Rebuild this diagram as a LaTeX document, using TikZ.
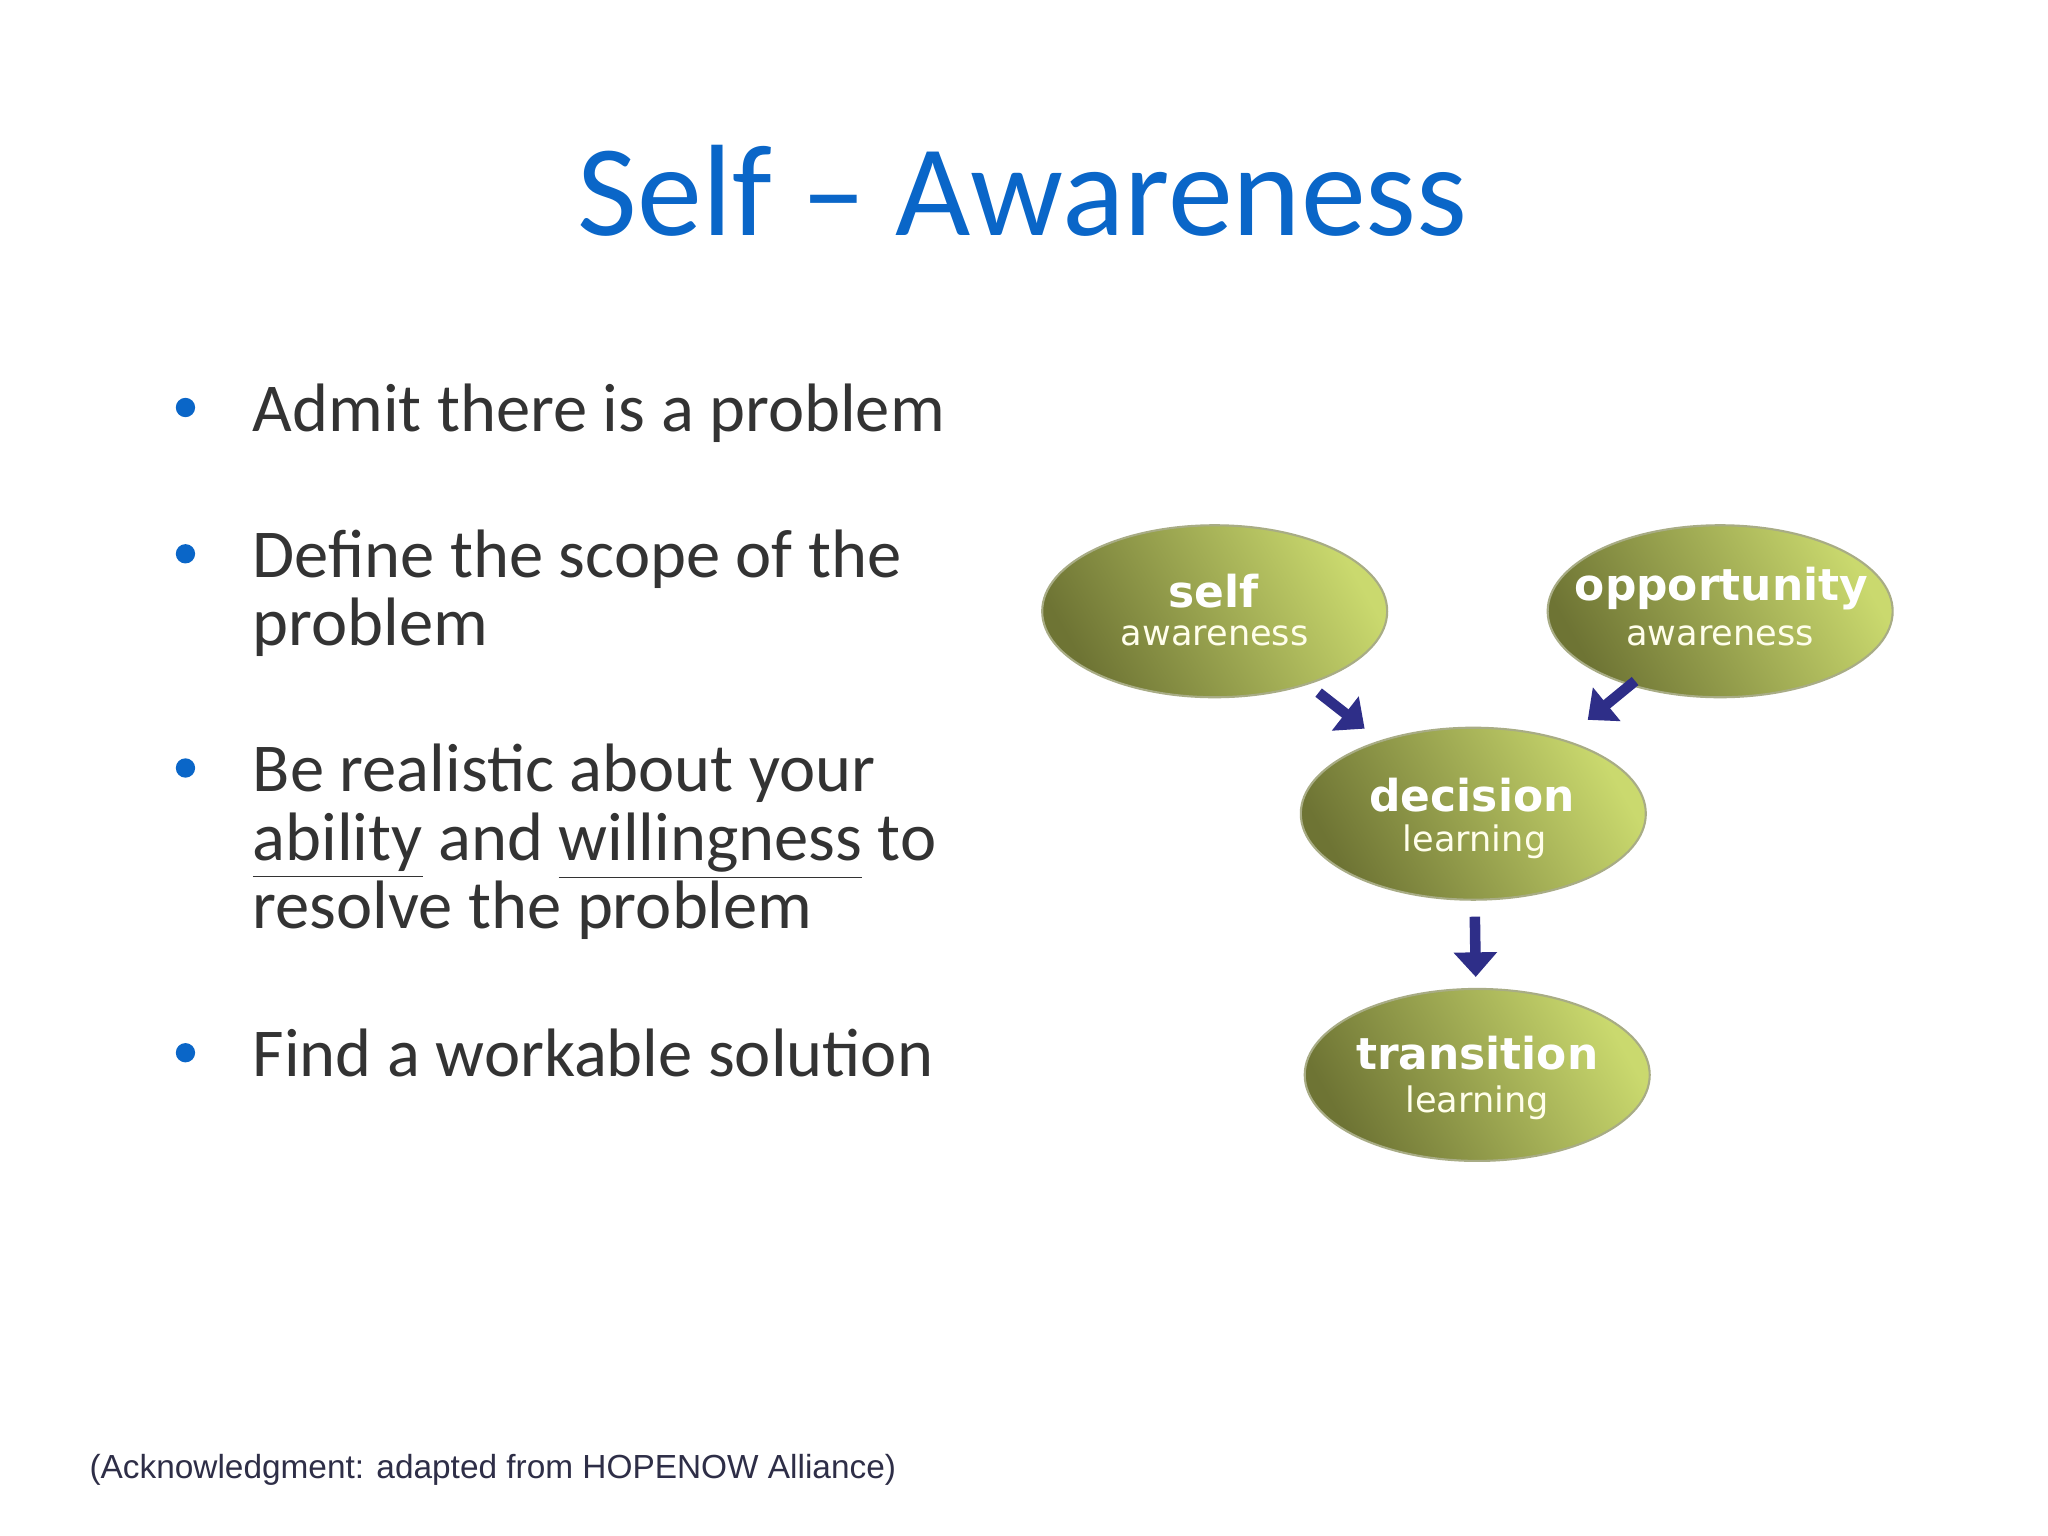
\documentclass[tikz,border=0pt]{standalone}
\usepackage{fontspec}
\setmainfont{Carlito}
\newfontfamily\ackfont{Liberation Sans}
\newfontfamily\elfont{DejaVu Sans}
\usetikzlibrary{shapes.geometric,arrows.meta}
\definecolor{ttl}{HTML}{0A66C8}
\definecolor{txt}{HTML}{333333}
\definecolor{arw}{HTML}{2E2E88}
\definecolor{gdark}{HTML}{6E7434}
\definecolor{glight}{HTML}{CAD96E}
\tikzset{
  bl/.style={anchor=base west,inner sep=0pt,font=\fontsize{19.5}{19.5}\selectfont,text=txt},
  dot/.style={circle,fill=ttl,inner sep=0pt,minimum size=5.5pt},
  oval/.style={ellipse,minimum width=3.45cm,minimum height=1.72cm,draw=gdark!60,line width=0.6pt,
     left color=gdark,right color=glight,shading angle=120},
  big/.style={inner sep=0pt,text=white,font=\elfont\bfseries\fontsize{12.5}{12.5}\selectfont},
  small/.style={inner sep=0pt,text=white!92!yellow,font=\elfont\fontsize{10}{10}\selectfont},
  arr/.style={draw=arw,line width=3pt,-{Triangle[length=7pt,width=12pt]}}
}
\begin{document}
\begin{tikzpicture}[x=0.01306cm,y=-0.01306cm]
\useasboundingbox[fill=white] (0,0) rectangle (1568,1176);
\node[anchor=base,inner sep=0pt,text=ttl,font=\fontsize{37}{37}\selectfont] (title) at (783,180) {Self -- Awareness};
\node[dot] (d1) at (142,312) {};
\node[bl] (b1) at (193,330) {Admit there is a problem};
\node[dot] (d2) at (142,424) {};
\node[bl] (b2a) at (193,442) {Define the scope of the};
\node[bl] (b2b) at (193,494) {problem};
\node[dot] (d3) at (142,588) {};
\node[bl] (b3a) at (193,606) {Be realistic about your};
\node[bl] (b3b) at (193,659) {\underline{ability} and \underline{willingness} to};
\node[bl] (b3c) at (193,711) {resolve the problem};
\node[dot] (d4) at (142,806) {};
\node[bl] (b4) at (193,824) {Find a workable solution};
\node[anchor=base west,inner sep=0pt,text=txt!90!blue,font=\ackfont\fontsize{9.5}{9.5}\selectfont] (ack) at (68,1132) {(Acknowledgment: adapted from HOPENOW Alliance)};

\node[oval] (self) at (930,468) {};
\node[oval] (opp) at (1317,468) {};
\node[oval] (dec) at (1128,623) {};
\node[oval] (tra) at (1131,823) {};
\node[big,anchor=base] (t1) at (929,465) {self};
\node[small,anchor=base] (s1) at (930,494) {awareness};
\node[big,anchor=base] (t2) at (1318,460) {opportunity};
\node[small,anchor=base] (s2) at (1317,494) {awareness};
\node[big,anchor=base] (t3) at (1127,621) {decision};
\node[small,anchor=base] (s3) at (1129,652) {learning};
\node[big,anchor=base] (t4) at (1131,819) {transition};
\node[small,anchor=base] (s4) at (1131,852) {learning};

\draw[arr,shorten <=1.32cm,shorten >=1.38cm] (self.center) -- (dec.center);
\draw[arr,shorten <=1.1cm,shorten >=1.48cm] (opp.center) -- (dec.center);
\draw[arr,shorten <=1.03cm,shorten >=0.98cm] (dec.center) -- (tra.center);
\end{tikzpicture}
\end{document}
